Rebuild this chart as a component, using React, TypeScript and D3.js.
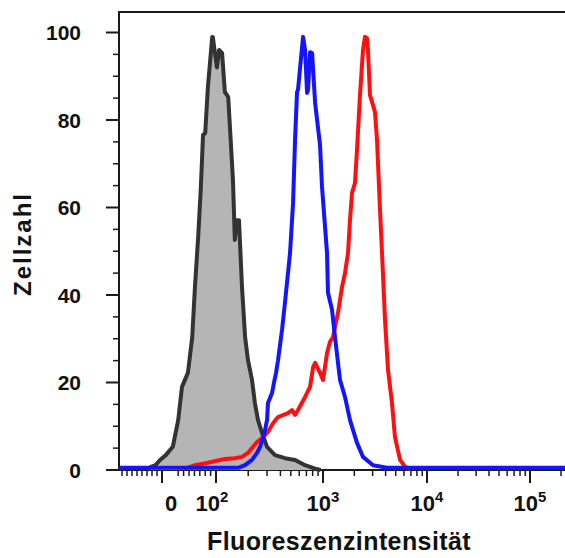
import React from "react";
import * as d3 from "d3";

// ---------- data (fluorescence intensity, cell count %) ----------
const grayX = [-30, -22, -13, -4, 7, 20, 30, 37, 48, 56, 61, 67, 72, 76, 80, 85, 93, 94, 102, 107, 114, 121, 130, 135, 144, 150, 157, 164, 175, 187, 199, 217, 231, 247, 269, 300, 356, 441, 548, 680, 757, 844, 950];
const grayY = [0, 0.7, 1.1, 2.3, 3.4, 5.3, 11.4, 19, 22.2, 30.4, 41.8, 53.3, 64.7, 76.6, 77, 87.5, 99, 99, 92, 96, 95.3, 86.4, 85.3, 78.4, 66.3, 52.6, 57.1, 57.1, 41.8, 30.4, 25.1, 20.6, 15.3, 11.4, 8.5, 5.3, 3.4, 2.7, 2.3, 1.1, 0.7, 0.3, 0];

const blueX = [-90, 121, 161, 187, 217, 242, 258, 275, 287, 300, 306, 334, 348, 364, 380, 414, 441, 492, 525, 548, 572, 584, 651, 680, 710, 725, 757, 791, 844, 938, 979, 1093, 1117, 1221, 1304, 1457, 1627, 1818, 2123, 2424, 3024, 4125, 5506, 300000];
const blueY = [0.5, 0.5, 0.5, 1.1, 2.3, 3.9, 5.3, 7.3, 9.1, 11.4, 15.3, 17.6, 19.9, 22.2, 25.1, 32, 38.2, 49.6, 61, 75.4, 86.4, 86.9, 99, 96, 86.2, 86.9, 95.5, 95.3, 83.9, 74.3, 64.7, 49.6, 40.5, 36.6, 30.4, 20.6, 16.7, 11.4, 6.2, 3, 1.1, 0.5, 0.5, 0.5];

const redX = [40, 52, 61, 83, 109, 121, 150, 175, 199, 217, 242, 269, 306, 341, 380, 470, 513, 548, 584, 680, 757, 808, 844, 938, 1000, 1093, 1168, 1248, 1393, 1523, 1627, 1740, 1818, 1900, 2030, 2123, 2269, 2424, 2533, 2648, 2707, 2831, 3024, 3161, 3307, 3535, 3694, 3947, 4218, 4606, 4922, 5506, 6155, 6881];
const redY = [0.3, 0.7, 1.1, 1.6, 2.3, 2.5, 2.7, 3, 3.9, 5, 6.4, 7.3, 8.7, 10.7, 12.1, 13, 13.7, 12.6, 13.7, 16.7, 19, 23.5, 24.5, 22.2, 20.6, 26.7, 29.3, 30.4, 35.9, 41.8, 45, 49.6, 57.1, 63.3, 65.6, 73.1, 85.7, 96, 99, 98.7, 96, 85.7, 83.4, 81.8, 75.4, 59.4, 49.6, 34.3, 22.9, 15.3, 7.5, 2.3, 0.7, 0.2];

const yTicks = [0, 20, 40, 60, 80, 100];
const yMinorTicks = [5, 10, 15, 25, 30, 35, 45, 50, 55, 65, 70, 75, 85, 90, 95];
const xMajorTicks = [0, 100, 1000, 10000, 100000];
const xMajorLabels = ["0", "10|2", "10|3", "10|4", "10|5"];
const xMinorTicks = [
  -80, -70, -60, -50, -40, -30, -20, -10,
  30, 40, 50, 60, 70, 80, 90,
  200, 300, 400, 500, 600, 700, 800, 900,
  2000, 3000, 4000, 5000, 6000, 7000, 8000, 9000,
  20000, 30000, 40000, 50000, 60000, 70000, 80000, 90000,
  200000,
];

// display transform (linear near zero, logarithmic above 100)
const T = (v: number) => {
  const a = Math.abs(v);
  if (a <= 100) return v / 100;
  return Math.sign(v) * (1 + Math.log10(a / 100));
};

const W = 565;
const H = 558;
const left = 119;
const top = 12;
const bottom = 470;

const xs = d3.scaleLinear().domain([-1, 0, 1, 2, 3, 4]).range([112, 162, 216, 323, 427, 530]);
const x = (v: number) => xs(T(v));
const y = d3.scaleLinear().domain([0, 100]).range([bottom, 32.5]);

const FONT = "'Liberation Sans', Arial, Helvetica, sans-serif";

export default function App() {
  const gray = grayX.map((v, i) => [v, grayY[i]] as [number, number]);
  const blue = blueX.map((v, i) => [v, blueY[i]] as [number, number]);
  const red = redX.map((v, i) => [v, redY[i]] as [number, number]);

  const line = d3.line<[number, number]>().x((d) => x(d[0])).y((d) => y(d[1]));
  const area = d3.area<[number, number]>().x((d) => x(d[0])).y0(y(0)).y1((d) => y(d[1]));

  const labelOffset = [9, -4, 0, 0, 0];

  return (
    <svg width={W} height={H} style={{ position: "absolute", left: 0, top: 0, background: "#fff" }} fontFamily={FONT}>
      <defs>
        <clipPath id="plot">
          <rect x={left} y={top} width={W - left + 20} height={bottom - top + 2} />
        </clipPath>
      </defs>
      <rect x={0} y={0} width={W} height={H} fill="#fff" />

      {/* frame */}
      <path d={`M${left},${bottom} L${left},${top} L${W + 20},${top}`} fill="none" stroke="#1a1a1a" strokeWidth={2} />
      <line x1={left} x2={W + 20} y1={bottom} y2={bottom} stroke="#1a1a1a" strokeWidth={2} />

      {/* y ticks */}
      {yTicks.map((t) => (
        <g key={"y" + t}>
          <line x1={left - 13} x2={left} y1={y(t)} y2={y(t)} stroke="#1a1a1a" strokeWidth={2} />
          <text x={81} y={y(t)} dy="0.36em" textAnchor="end" fontSize={21} fontWeight="bold" fill="#111">
            {t}
          </text>
        </g>
      ))}
      {yMinorTicks.map((t) => (
        <line key={"ym" + t} x1={left - 6} x2={left} y1={y(t)} y2={y(t)} stroke="#1a1a1a" strokeWidth={1.5} />
      ))}

      {/* x ticks */}
      {xMajorTicks.map((t, i) => {
        const [base, sup] = xMajorLabels[i].split("|");
        return (
          <g key={"x" + t}>
            <line x1={x(t)} x2={x(t)} y1={bottom} y2={bottom + 13} stroke="#1a1a1a" strokeWidth={2} />
            <text x={x(t) + labelOffset[i]} y={511} textAnchor="middle" fontSize={22} fontWeight="bold" fill="#111">
              {base}
              {sup ? (
                <tspan dy={-9} fontSize={15}>
                  {sup}
                </tspan>
              ) : null}
            </text>
          </g>
        );
      })}
      {xMinorTicks.map((t) => (
        <line key={"xm" + t} x1={x(t)} x2={x(t)} y1={bottom} y2={bottom + 6} stroke="#1a1a1a" strokeWidth={1.5} />
      ))}

      {/* curves */}
      <g clipPath="url(#plot)">
        <path d={area(gray) || ""} fill="#b5b5b5" stroke="none" />
        <path d={line(gray) || ""} fill="none" stroke="#333" strokeWidth={4} strokeLinejoin="round" />
        <path d={line(red) || ""} fill="none" stroke="#ff1010" strokeWidth={4} strokeLinejoin="round" />
        <path d={line(blue) || ""} fill="none" stroke="#1414ff" strokeWidth={4} strokeLinejoin="round" />
      </g>

      {/* axis titles */}
      <text x={339} y={550} textAnchor="middle" fontSize={25} fontWeight="bold" fill="#111" letterSpacing={0.4}>
        Fluoreszenzintensität
      </text>
      <text
        transform={`translate(31,244) rotate(-90)`}
        textAnchor="middle"
        fontSize={24}
        fontWeight="bold"
        fill="#111"
        letterSpacing={2}
      >
        Zellzahl
      </text>
    </svg>
  );
}
